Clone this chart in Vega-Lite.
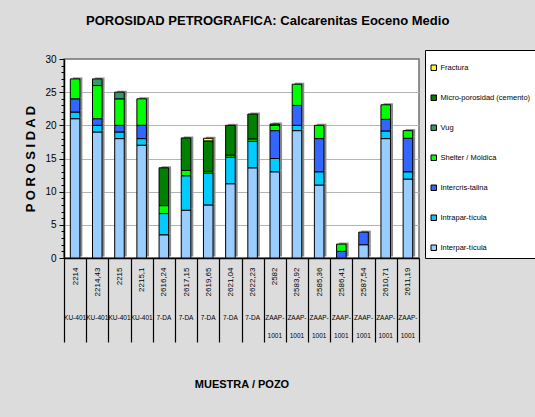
{
  "$schema": "https://vega.github.io/schema/vega-lite/v6.json",
  "width": 355,
  "height": 199,
  "autosize": {"type": "none"},
  "padding": {"left": 64, "top": 59, "right": 116, "bottom": 159},
  "background": "#dcdcdc",
  "title": {
    "text": "POROSIDAD PETROGRAFICA: Calcarenitas Eoceno Medio",
    "anchor": "start",
    "frame": "group",
    "dx": 22,
    "offset": 22,
    "font": "Liberation Sans",
    "fontSize": 13,
    "fontWeight": "bold",
    "color": "#000000"
  },
  "datasets": {
    "porosidad": [
      {"muestra": "2214", "pozo": "KU-401", "tipo": "Interpar-tícula", "valor": 21},
      {"muestra": "2214", "pozo": "KU-401", "tipo": "Intrapar-tícula", "valor": 1},
      {"muestra": "2214", "pozo": "KU-401", "tipo": "Intercris-talina", "valor": 2},
      {"muestra": "2214", "pozo": "KU-401", "tipo": "Shelter / Móldica", "valor": 3},
      {"muestra": "2214,43", "pozo": "KU-401", "tipo": "Interpar-tícula", "valor": 19},
      {"muestra": "2214,43", "pozo": "KU-401", "tipo": "Intrapar-tícula", "valor": 1},
      {"muestra": "2214,43", "pozo": "KU-401", "tipo": "Intercris-talina", "valor": 1},
      {"muestra": "2214,43", "pozo": "KU-401", "tipo": "Shelter / Móldica", "valor": 5},
      {"muestra": "2214,43", "pozo": "KU-401", "tipo": "Vug", "valor": 1},
      {"muestra": "2215", "pozo": "KU-401", "tipo": "Interpar-tícula", "valor": 18},
      {"muestra": "2215", "pozo": "KU-401", "tipo": "Intrapar-tícula", "valor": 1},
      {"muestra": "2215", "pozo": "KU-401", "tipo": "Intercris-talina", "valor": 1},
      {"muestra": "2215", "pozo": "KU-401", "tipo": "Shelter / Móldica", "valor": 4},
      {"muestra": "2215", "pozo": "KU-401", "tipo": "Vug", "valor": 1},
      {"muestra": "2215,1", "pozo": "KU-401", "tipo": "Interpar-tícula", "valor": 17},
      {"muestra": "2215,1", "pozo": "KU-401", "tipo": "Intrapar-tícula", "valor": 1},
      {"muestra": "2215,1", "pozo": "KU-401", "tipo": "Intercris-talina", "valor": 2},
      {"muestra": "2215,1", "pozo": "KU-401", "tipo": "Shelter / Móldica", "valor": 4},
      {"muestra": "2616,24", "pozo": "7-DA", "tipo": "Interpar-tícula", "valor": 3.5},
      {"muestra": "2616,24", "pozo": "7-DA", "tipo": "Intrapar-tícula", "valor": 3.2},
      {"muestra": "2616,24", "pozo": "7-DA", "tipo": "Shelter / Móldica", "valor": 1.2},
      {"muestra": "2616,24", "pozo": "7-DA", "tipo": "Micro-porosidad (cemento)", "valor": 5.7},
      {"muestra": "2617,15", "pozo": "7-DA", "tipo": "Interpar-tícula", "valor": 7.2},
      {"muestra": "2617,15", "pozo": "7-DA", "tipo": "Intrapar-tícula", "valor": 5.2},
      {"muestra": "2617,15", "pozo": "7-DA", "tipo": "Shelter / Móldica", "valor": 0.8},
      {"muestra": "2617,15", "pozo": "7-DA", "tipo": "Micro-porosidad (cemento)", "valor": 4.9},
      {"muestra": "2619,65", "pozo": "7-DA", "tipo": "Interpar-tícula", "valor": 8},
      {"muestra": "2619,65", "pozo": "7-DA", "tipo": "Intrapar-tícula", "valor": 4.8},
      {"muestra": "2619,65", "pozo": "7-DA", "tipo": "Shelter / Móldica", "valor": 0.25},
      {"muestra": "2619,65", "pozo": "7-DA", "tipo": "Micro-porosidad (cemento)", "valor": 4.6},
      {"muestra": "2619,65", "pozo": "7-DA", "tipo": "Fractura", "valor": 0.4},
      {"muestra": "2621,04", "pozo": "7-DA", "tipo": "Interpar-tícula", "valor": 11.2},
      {"muestra": "2621,04", "pozo": "7-DA", "tipo": "Intrapar-tícula", "valor": 4},
      {"muestra": "2621,04", "pozo": "7-DA", "tipo": "Shelter / Móldica", "valor": 0.3},
      {"muestra": "2621,04", "pozo": "7-DA", "tipo": "Micro-porosidad (cemento)", "valor": 4.5},
      {"muestra": "2622,23", "pozo": "7-DA", "tipo": "Interpar-tícula", "valor": 13.6},
      {"muestra": "2622,23", "pozo": "7-DA", "tipo": "Intrapar-tícula", "valor": 4},
      {"muestra": "2622,23", "pozo": "7-DA", "tipo": "Shelter / Móldica", "valor": 0.35},
      {"muestra": "2622,23", "pozo": "7-DA", "tipo": "Micro-porosidad (cemento)", "valor": 3.75},
      {"muestra": "2582", "pozo": "ZAAP-1001", "tipo": "Interpar-tícula", "valor": 13},
      {"muestra": "2582", "pozo": "ZAAP-1001", "tipo": "Intrapar-tícula", "valor": 2},
      {"muestra": "2582", "pozo": "ZAAP-1001", "tipo": "Intercris-talina", "valor": 4.2},
      {"muestra": "2582", "pozo": "ZAAP-1001", "tipo": "Shelter / Móldica", "valor": 0.8},
      {"muestra": "2582", "pozo": "ZAAP-1001", "tipo": "Micro-porosidad (cemento)", "valor": 0.2},
      {"muestra": "2583,92", "pozo": "ZAAP-1001", "tipo": "Interpar-tícula", "valor": 19.2},
      {"muestra": "2583,92", "pozo": "ZAAP-1001", "tipo": "Intrapar-tícula", "valor": 0.8},
      {"muestra": "2583,92", "pozo": "ZAAP-1001", "tipo": "Intercris-talina", "valor": 3},
      {"muestra": "2583,92", "pozo": "ZAAP-1001", "tipo": "Shelter / Móldica", "valor": 3.2},
      {"muestra": "2585,36", "pozo": "ZAAP-1001", "tipo": "Interpar-tícula", "valor": 11},
      {"muestra": "2585,36", "pozo": "ZAAP-1001", "tipo": "Intrapar-tícula", "valor": 2},
      {"muestra": "2585,36", "pozo": "ZAAP-1001", "tipo": "Intercris-talina", "valor": 5},
      {"muestra": "2585,36", "pozo": "ZAAP-1001", "tipo": "Shelter / Móldica", "valor": 2},
      {"muestra": "2586,41", "pozo": "ZAAP-1001", "tipo": "Intercris-talina", "valor": 1},
      {"muestra": "2586,41", "pozo": "ZAAP-1001", "tipo": "Shelter / Móldica", "valor": 1.1},
      {"muestra": "2587,54", "pozo": "ZAAP-1001", "tipo": "Interpar-tícula", "valor": 2},
      {"muestra": "2587,54", "pozo": "ZAAP-1001", "tipo": "Intercris-talina", "valor": 1.9},
      {"muestra": "2610,71", "pozo": "ZAAP-1001", "tipo": "Interpar-tícula", "valor": 18},
      {"muestra": "2610,71", "pozo": "ZAAP-1001", "tipo": "Intrapar-tícula", "valor": 1.15},
      {"muestra": "2610,71", "pozo": "ZAAP-1001", "tipo": "Intercris-talina", "valor": 1.75},
      {"muestra": "2610,71", "pozo": "ZAAP-1001", "tipo": "Shelter / Móldica", "valor": 2.2},
      {"muestra": "2611,19", "pozo": "ZAAP-1001", "tipo": "Interpar-tícula", "valor": 11.9},
      {"muestra": "2611,19", "pozo": "ZAAP-1001", "tipo": "Intrapar-tícula", "valor": 1.1},
      {"muestra": "2611,19", "pozo": "ZAAP-1001", "tipo": "Intercris-talina", "valor": 5.05},
      {"muestra": "2611,19", "pozo": "ZAAP-1001", "tipo": "Shelter / Móldica", "valor": 1.15}
    ]
  },
  "data": {"name": "porosidad"},
  "transform": [
    {"calculate": "datum.pozo + '|' + datum.muestra", "as": "clave"},
    {"calculate": "indexof(['Interpar-tícula','Intrapar-tícula','Intercris-talina','Shelter / Móldica','Vug','Micro-porosidad (cemento)','Fractura'], datum.tipo)", "as": "orden"}
  ],
  "layer": [
    {
      "mark": {"type": "bar", "width": {"band": 0.43}, "color": "#8a8a8a", "xOffset": 2.5, "yOffset": -1.5},
      "encoding": {
        "x": {"field": "clave", "type": "nominal", "sort": null, "axis": null},
        "y": {
          "field": "valor",
          "type": "quantitative",
          "stack": "zero",
          "scale": {"domain": [0, 30], "nice": false},
          "axis": {
            "title": "P O R O S I D A D",
            "titleFont": "Liberation Sans",
            "titleFontSize": 13,
            "titleFontWeight": "bold",
            "titleColor": "#000000",
            "titlePadding": 7,
            "values": [0,1,2,3,4,5,6,7,8,9,10,11,12,13,14,15,16,17,18,19,20,21,22,23,24,25,26,27,28,29,30],
            "labelExpr": "datum.value % 5 === 0 ? datum.label : ''",
            "labelFont": "Liberation Sans",
            "labelFontSize": 10,
            "labelColor": "#000000",
            "labelPadding": 3,
            "tickSize": {"condition": {"test": "datum.value % 5 === 0", "value": 5}, "value": 3},
            "tickColor": "#000000",
            "domainColor": "#000000",
            "domainWidth": 1.5,
            "grid": true,
            "gridColor": "#b4b4b4",
            "gridOpacity": {"condition": {"test": "datum.value % 5 === 0 && datum.value > 0 && datum.value < 30", "value": 1}, "value": 0}
          }
        },
        "order": {"field": "orden", "type": "quantitative"}
      }
    },
    {
      "mark": {"type": "bar", "width": {"band": 0.43}, "stroke": "#000000", "strokeWidth": 1},
      "encoding": {
        "x": {
          "field": "clave",
          "type": "nominal",
          "sort": null,
          "scale": {"paddingInner": 0, "paddingOuter": 0},
          "axis": {
            "orient": "bottom",
            "title": null,
            "labelExpr": "split(datum.value, '|')[1]",
            "labelAngle": 270,
            "labelAlign": "right",
            "labelBaseline": "middle",
            "labelPadding": -75,
            "labelFont": "Liberation Sans",
            "labelFontSize": 8,
            "labelColor": "#000000",
            "tickBand": "extent",
            "tickSize": 84,
            "tickColor": "#000000",
            "tickWidth": 1.2,
            "domainColor": "#000000",
            "domainWidth": 1.5,
            "grid": false
          }
        },
        "y": {
          "field": "valor",
          "type": "quantitative",
          "stack": "zero",
          "scale": {"domain": [0, 30], "nice": false},
          "axis": {
            "title": "P O R O S I D A D",
            "titleFont": "Liberation Sans",
            "titleFontSize": 13,
            "titleFontWeight": "bold",
            "titleColor": "#000000",
            "titlePadding": 7,
            "values": [0,1,2,3,4,5,6,7,8,9,10,11,12,13,14,15,16,17,18,19,20,21,22,23,24,25,26,27,28,29,30],
            "labelExpr": "datum.value % 5 === 0 ? datum.label : ''",
            "labelFont": "Liberation Sans",
            "labelFontSize": 10,
            "labelColor": "#000000",
            "labelPadding": 3,
            "tickSize": {"condition": {"test": "datum.value % 5 === 0", "value": 5}, "value": 3},
            "tickColor": "#000000",
            "domainColor": "#000000",
            "domainWidth": 1.5,
            "grid": true,
            "gridColor": "#b4b4b4",
            "gridOpacity": {"condition": {"test": "datum.value % 5 === 0 && datum.value > 0 && datum.value < 30", "value": 1}, "value": 0}
          }
        },
        "color": {
          "field": "tipo",
          "type": "nominal",
          "scale": {
            "domain": ["Fractura", "Micro-porosidad (cemento)", "Vug", "Shelter / Móldica", "Intercris-talina", "Intrapar-tícula", "Interpar-tícula"],
            "range": ["#ffff00", "#008000", "#339966", "#00ff00", "#3366ff", "#00ccff", "#99ccff"]
          },
          "legend": {
            "title": " ",
            "titleFontSize": 6,
            "titlePadding": 3,
            "orient": "none",
            "legendX": 361,
            "legendY": -9,
            "padding": 5,
            "strokeColor": "#000000",
            "fillColor": "#ffffff",
            "symbolType": "square",
            "symbolSize": 30,
            "symbolStrokeColor": "#000000",
            "symbolStrokeWidth": 1,
            "labelFont": "Liberation Sans",
            "labelFontSize": 7.5,
            "labelColor": "#000000",
            "labelOffset": 3,
            "rowPadding": 20
          }
        },
        "order": {"field": "orden", "type": "quantitative"}
      }
    },
    {
      "mark": {"type": "point", "opacity": 0},
      "encoding": {
        "x": {
          "field": "clave",
          "type": "nominal",
          "sort": null,
          "axis": {
            "orient": "bottom",
            "title": "MUESTRA / POZO",
            "titleFont": "Liberation Sans",
            "titleFontSize": 11,
            "titleFontWeight": "bold",
            "titleColor": "#000000",
            "titlePadding": 40,
            "labelExpr": "split(replace(split(datum.value, '|')[0], 'ZAAP-', 'ZAAP-~'), '~')",
            "labelAngle": 0,
            "labelAlign": "center",
            "labelBaseline": "top",
            "labelPadding": 56,
            "labelLineHeight": 18,
            "labelFont": "Liberation Sans",
            "labelFontSize": 6.5,
            "labelColor": "#000000",
            "ticks": false,
            "domain": false,
            "grid": false
          }
        }
      }
    }
  ],
  "resolve": {"axis": {"x": "independent"}},
  "config": {
    "font": "Liberation Sans",
    "view": {"fill": "#ffffff", "stroke": "#707070", "strokeWidth": 1.5}
  }
}
